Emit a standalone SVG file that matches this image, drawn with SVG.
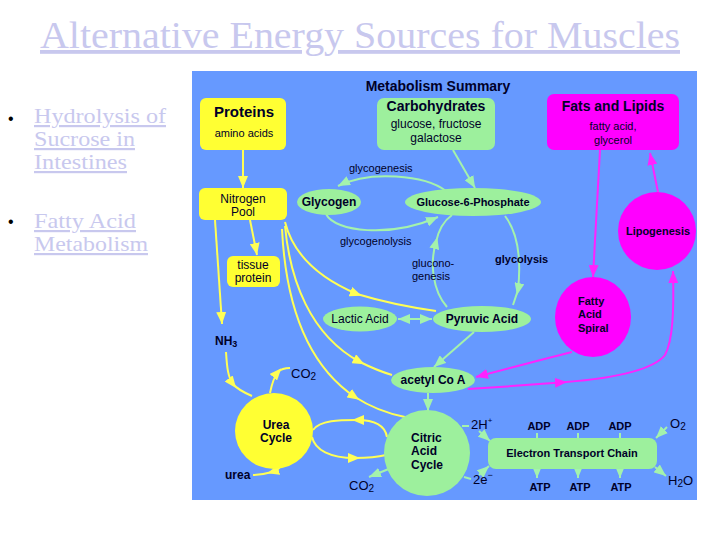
<svg xmlns="http://www.w3.org/2000/svg" width="720" height="540" viewBox="0 0 720 540">
<style>
.t{font-family:"Liberation Sans",Arial,sans-serif;fill:#000028}
.b{font-weight:bold}
.s{font-family:"Liberation Serif","Times New Roman",serif;fill:#c8c8ee;text-decoration:underline}
.yl{fill:none;stroke:#ffff55;stroke-width:2}
.gl{fill:none;stroke:#a4f2ac;stroke-width:2}
.ml{fill:none;stroke:#ff22ff;stroke-width:2}
.yel{fill:#ffff33}
.grn{fill:#9df09d}
.mag{fill:#ff00ff}
</style>
<defs>
<marker id="yE" viewBox="0 0 12 10" refX="12" refY="5" markerWidth="12" markerHeight="10" markerUnits="userSpaceOnUse" orient="auto"><path d="M0,0 L12,5 L0,10 z" fill="#ffff55"/></marker>
<marker id="yM" viewBox="0 0 12 10" refX="7" refY="5" markerWidth="12" markerHeight="10" markerUnits="userSpaceOnUse" orient="auto"><path d="M0,0 L12,5 L0,10 z" fill="#ffff55"/></marker>
<marker id="gE" viewBox="0 0 12 10" refX="12" refY="5" markerWidth="12" markerHeight="10" markerUnits="userSpaceOnUse" orient="auto-start-reverse"><path d="M0,0 L12,5 L0,10 z" fill="#a4f2ac"/></marker>
<marker id="gM" viewBox="0 0 12 10" refX="7" refY="5" markerWidth="12" markerHeight="10" markerUnits="userSpaceOnUse" orient="auto"><path d="M0,0 L12,5 L0,10 z" fill="#a4f2ac"/></marker>
<marker id="mE" viewBox="0 0 12 10" refX="12" refY="5" markerWidth="12" markerHeight="10" markerUnits="userSpaceOnUse" orient="auto"><path d="M0,0 L12,5 L0,10 z" fill="#ff22ff"/></marker>
</defs>
<rect width="720" height="540" fill="#ffffff"/>
<text class="s" x="360" y="48" text-anchor="middle" font-size="38" textLength="640" lengthAdjust="spacingAndGlyphs">Alternative Energy Sources for Muscles</text>
<g id="bullets">
<text x="8" y="124" font-family="Liberation Sans,sans-serif" font-size="16" fill="#000">•</text>
<text class="s" x="34" y="123" font-size="22" textLength="132" lengthAdjust="spacingAndGlyphs">Hydrolysis of</text>
<text class="s" x="34" y="146" font-size="22" textLength="101" lengthAdjust="spacingAndGlyphs">Sucrose in</text>
<text class="s" x="34" y="169" font-size="22" textLength="93" lengthAdjust="spacingAndGlyphs">Intestines</text>
<text x="8" y="227" font-family="Liberation Sans,sans-serif" font-size="16" fill="#000">•</text>
<text class="s" x="34" y="228" font-size="22" textLength="102" lengthAdjust="spacingAndGlyphs">Fatty Acid</text>
<text class="s" x="34" y="251" font-size="22" textLength="114" lengthAdjust="spacingAndGlyphs">Metabolism</text>
</g>
<rect x="192" y="71" width="505" height="429" fill="#6699ff"/>
<text class="t b" x="438" y="91" text-anchor="middle" font-size="14">Metabolism Summary</text>

<g id="connectors">
<path class="yl" d="M243,150 L243,188" marker-end="url(#yE)"/>
<path class="yl" d="M250,220 L257,255" marker-end="url(#yE)"/>
<path class="yl" d="M215,220 L222,324" marker-end="url(#yE)"/>
<path class="yl" d="M285,222 C292,250 312,275 357,294 C390,304 415,308 436,311" marker-mid="url(#yM)"/>
<path class="yl" d="M285,226 C290,280 310,335 360,362 C372,368 382,372 392,375" marker-mid="url(#yM)"/>
<path class="yl" d="M282,229 C285,290 300,360 355,397 C372,408 390,414 405,417" marker-mid="url(#yM)"/>
<path class="yl" d="M226,352 C227,368 228,377 233,384 C238,390 245,393 252,396" marker-mid="url(#yM)"/>
<path class="yl" d="M270,393 C272,383 274,377 278,372 C281,369 285,368 290,368" marker-mid="url(#yM)"/>
<path class="yl" d="M285,458 C283,465 279,470 272,472 C265,474 260,475 253,475" marker-mid="url(#yM)"/>
<path class="yl" d="M387,437 C385,425 375,420 357,420 C340,420 320,420 313,430" marker-mid="url(#yM)"/>
<path class="yl" d="M312,437 C315,450 330,458 355,458 C370,458 378,457 386,455" marker-mid="url(#yM)"/>
<path class="gl" d="M453,150 L475,188" marker-end="url(#gE)"/>
<path class="gl" d="M446,191 C425,175 370,170 338,186" marker-end="url(#gE)"/>
<path class="gl" d="M326,214 C335,232 390,238 438,217" marker-end="url(#gE)"/>
<path class="gl" d="M447,307 C432,290 430,262 436,242 C439,228 445,220 452,215" marker-mid="url(#gM)"/>
<path class="gl" d="M505,216 C519,234 521,262 518,290 L513,305" marker-mid="url(#gM)"/>
<path class="gl" d="M398,319 L432,319" marker-start="url(#gE)" marker-end="url(#gE)"/>
<path class="gl" d="M474,332 L434,367" marker-end="url(#gE)"/>
<path class="gl" d="M428,393 L428,411" marker-end="url(#gE)"/>
<path class="gl" d="M396,466 L369,477" marker-end="url(#gE)"/>
<path class="gl" d="M462,426 L469,426"/>
<path class="gl" d="M479,431 L490,441" marker-end="url(#gE)"/>
<path class="gl" d="M464,477 L471,479"/>
<path class="gl" d="M479,475 L489,466" marker-end="url(#gE)"/>
<path class="gl" d="M537,433 L537,439 M578,433 L578,439 M620,433 L620,439"/>
<path class="gl" d="M537,468 L537,478" marker-end="url(#gE)"/>
<path class="gl" d="M578,468 L578,478" marker-end="url(#gE)"/>
<path class="gl" d="M620,468 L620,478" marker-end="url(#gE)"/>
<path class="gl" d="M667,427 L656,438" marker-end="url(#gE)"/>
<path class="gl" d="M655,467 L666,476" marker-end="url(#gE)"/>
<path class="ml" d="M600,150 L593,277" marker-end="url(#mE)"/>
<path class="ml" d="M658,192 L650,153" marker-end="url(#mE)"/>
<path class="ml" d="M572,352 C540,360 510,368 476,377" marker-end="url(#mE)"/>
<path class="ml" d="M468,389 C500,387 540,384 567,382" marker-end="url(#mE)"/>
<path class="ml" d="M566,382 C620,378 655,368 665,355 C673,340 674,310 673,271" marker-end="url(#mE)"/>
</g>

<g id="proteins"><rect class="yel" x="200" y="98" width="86" height="52" rx="6"/>
<text class="t b" x="244" y="117" text-anchor="middle" font-size="15">Proteins</text>
<text class="t" x="244" y="137" text-anchor="middle" font-size="11">amino acids</text></g>
<g id="carbohydrates"><rect class="grn" x="377" y="98" width="118" height="52" rx="7"/>
<text class="t b" x="436" y="111" text-anchor="middle" font-size="14">Carbohydrates</text>
<text class="t" x="436" y="128" text-anchor="middle" font-size="12">glucose, fructose</text>
<text class="t" x="436" y="142" text-anchor="middle" font-size="12">galactose</text></g>
<g id="fats"><rect class="mag" x="547" y="94" width="132" height="56" rx="7"/>
<text class="t b" x="613" y="111" text-anchor="middle" font-size="14">Fats and Lipids</text>
<text class="t" x="613" y="130" text-anchor="middle" font-size="11">fatty acid,</text>
<text class="t" x="613" y="144" text-anchor="middle" font-size="11">glycerol</text></g>
<g id="nitrogen"><rect class="yel" x="199" y="188" width="88" height="32" rx="6"/>
<text class="t" x="243" y="203" text-anchor="middle" font-size="12">Nitrogen</text>
<text class="t" x="243" y="216" text-anchor="middle" font-size="12">Pool</text></g>
<g id="tissue"><rect class="yel" x="227" y="256" width="53" height="31" rx="6"/>
<text class="t" x="253" y="269" text-anchor="middle" font-size="12">tissue</text>
<text class="t" x="253" y="282" text-anchor="middle" font-size="12">protein</text></g>
<g id="nh3"><text class="t b" x="215" y="345" font-size="12">NH<tspan font-size="9" dy="2">3</tspan></text></g>
<g id="glycogen"><ellipse class="grn" cx="329" cy="202" rx="32" ry="13"/>
<text class="t b" x="329" y="206" text-anchor="middle" font-size="12">Glycogen</text></g>
<g id="g6p"><ellipse class="grn" cx="473" cy="202" rx="68" ry="14"/>
<text class="t b" x="473" y="206" text-anchor="middle" font-size="11">Glucose-6-Phosphate</text></g>
<g id="labels">
<text class="t" x="349" y="172" font-size="11">glycogenesis</text>
<text class="t" x="340" y="245" font-size="11">glycogenolysis</text>
<text class="t" x="412" y="267" font-size="11">glucono-</text>
<text class="t" x="412" y="280" font-size="11">genesis</text>
<text class="t b" x="495" y="263" font-size="11">glycolysis</text>
</g>
<g id="lactic"><ellipse class="grn" cx="360" cy="319" rx="37" ry="12.5"/>
<text class="t" x="360" y="323" text-anchor="middle" font-size="12">Lactic Acid</text></g>
<g id="pyruvic"><ellipse class="grn" cx="482" cy="319" rx="49" ry="13"/>
<text class="t b" x="482" y="323" text-anchor="middle" font-size="12">Pyruvic Acid</text></g>
<g id="acetyl"><ellipse class="grn" cx="433" cy="380" rx="42" ry="13"/>
<text class="t b" x="433" y="384" text-anchor="middle" font-size="12">acetyl Co A</text></g>
<g id="citric"><circle class="grn" cx="427" cy="453" r="43"/>
<text class="t b" x="411" y="442" font-size="12">Citric</text>
<text class="t b" x="411" y="455" font-size="12">Acid</text>
<text class="t b" x="411" y="469" font-size="12">Cycle</text></g>
<g id="urea-cycle"><ellipse class="yel" cx="274" cy="431" rx="39" ry="38"/>
<text class="t b" x="276" y="429" text-anchor="middle" font-size="12">Urea</text>
<text class="t b" x="276" y="442" text-anchor="middle" font-size="12">Cycle</text></g>
<g id="co2-top"><text class="t" x="291" y="378" font-size="13">CO<tspan font-size="10" dy="2">2</tspan></text></g>
<g id="urea"><text class="t b" x="225" y="479" font-size="12">urea</text></g>
<g id="co2-bottom"><text class="t" x="349" y="490" font-size="13">CO<tspan font-size="10" dy="2">2</tspan></text></g>
<g id="fas"><ellipse class="mag" cx="593" cy="317" rx="38" ry="40"/>
<text class="t b" x="578" y="305" font-size="11">Fatty</text>
<text class="t b" x="578" y="318" font-size="11">Acid</text>
<text class="t b" x="578" y="332" font-size="11">Spiral</text></g>
<g id="lipogenesis"><circle class="mag" cx="657" cy="231" r="39"/>
<text class="t b" x="658" y="235" text-anchor="middle" font-size="11">Lipogenesis</text></g>
<g id="etc"><rect class="grn" x="488" y="438" width="169" height="31" rx="8"/>
<text class="t b" x="572" y="457" text-anchor="middle" font-size="11">Electron Transport Chain</text></g>
<g id="etc-labels">
<text class="t" x="471" y="429" font-size="13">2H<tspan font-size="8" dy="-6">+</tspan></text>
<text class="t" x="473" y="484" font-size="13">2e<tspan font-size="9" dy="-6">−</tspan></text>
<text class="t b" x="539" y="430" text-anchor="middle" font-size="11">ADP</text>
<text class="t b" x="578" y="430" text-anchor="middle" font-size="11">ADP</text>
<text class="t b" x="620" y="430" text-anchor="middle" font-size="11">ADP</text>
<text class="t b" x="540" y="491" text-anchor="middle" font-size="11">ATP</text>
<text class="t b" x="580" y="491" text-anchor="middle" font-size="11">ATP</text>
<text class="t b" x="621" y="491" text-anchor="middle" font-size="11">ATP</text>
<text class="t" x="670" y="428" font-size="13">O<tspan font-size="10" dy="2">2</tspan></text>
<text class="t" x="668" y="485" font-size="13">H<tspan font-size="10" dy="2">2</tspan><tspan dy="-2">O</tspan></text>
</g>
</svg>
